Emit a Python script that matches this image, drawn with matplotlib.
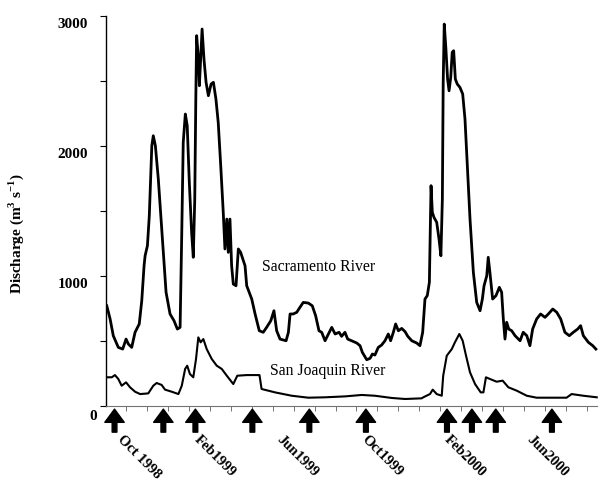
import numpy as np
import matplotlib.pyplot as plt
from matplotlib.transforms import ScaledTranslation

plt.rcParams['font.family'] = ['Liberation Serif', 'DejaVu Serif']
plt.rcParams['mathtext.fontset'] = 'custom'
plt.rcParams['mathtext.rm'] = 'Liberation Serif'
plt.rcParams['mathtext.bf'] = 'Liberation Serif:bold'

# tiempo en meses desde oct 1998, caudal en m3/s
sac_t = [-0.37, -0.21, -0.06, 0.18, 0.39, 0.55, 0.66, 0.82, 0.98, 1.18, 1.30, 1.41,
         1.46, 1.57, 1.66, 1.78, 1.85, 1.95, 2.09, 2.21, 2.33, 2.46, 2.65, 2.84,
         3.00, 3.13, 3.21, 3.28, 3.38, 3.47, 3.57, 3.68, 3.76, 3.83, 3.88, 3.92,
         4.00, 4.05, 4.11, 4.18, 4.27, 4.37, 4.48, 4.61, 4.72, 4.84, 4.95, 5.07,
         5.19, 5.27, 5.36, 5.43, 5.51, 5.59, 5.67, 5.80, 5.91, 6.02, 6.23, 6.31,
         6.55, 6.71, 6.91, 7.10, 7.26, 7.46, 7.61, 7.74, 7.90, 8.19, 8.30, 8.38,
         8.53, 8.70, 8.85, 9.01, 9.25, 9.44, 9.60, 9.76, 9.89, 10.05, 10.21, 10.37,
         10.53, 10.72, 10.84, 11.00, 11.13, 11.32, 11.56, 11.72, 11.83, 12.04, 12.20,
         12.31, 12.43, 12.59, 12.75, 12.91, 13.07, 13.18, 13.31, 13.42, 13.55, 13.71,
         13.87, 14.00, 14.19, 14.42, 14.58, 14.71, 14.82, 14.93, 15.03, 15.11, 15.17,
         15.25, 15.38, 15.49, 15.58, 15.65, 15.69, 15.74, 15.82, 15.90, 15.97, 16.05,
         16.12, 16.19, 16.27, 16.36, 16.49, 16.62, 16.73, 16.84, 16.97, 17.13, 17.29,
         17.45, 17.56, 17.64, 17.77, 17.84, 17.92, 18.05, 18.21, 18.37, 18.48, 18.56,
         18.64, 18.72, 18.82, 18.96, 19.12, 19.36, 19.51, 19.68, 19.83, 19.96, 20.15,
         20.34, 20.55, 20.71, 20.92, 21.11, 21.30, 21.50, 21.71, 21.90, 22.11, 22.25,
         22.38, 22.62, 22.83, 22.98]
sac_q = [771, 669, 541, 451, 438, 515, 477, 451, 567, 631, 810, 1079,
         1156, 1233, 1464, 2002, 2079, 2002, 1746, 1464, 1182, 875, 708, 656,
         592, 605, 1336, 2028, 2246, 2156, 1721, 1336, 1144, 1592, 2362, 2849,
         2682, 2464, 2669, 2900, 2669, 2490, 2387, 2477, 2490, 2362, 2182, 1848,
         1490, 1208, 1438, 1182, 1438, 1079, 938, 925, 1208, 1182, 1079, 925,
         823, 708, 579, 567, 605, 656, 733, 579, 515, 502, 567, 708,
         708, 721, 759, 797, 792, 771, 695, 579, 567, 502, 554, 605,
         554, 567, 536, 567, 515, 502, 485, 464, 413, 356, 367,
         400, 392, 451, 469, 502, 554, 502, 567, 631, 579, 597,
         572, 536, 502, 485, 464, 567, 823, 849, 951, 1695, 1490,
         1451, 1413, 1285, 1156, 1592, 2490, 2938, 2746, 2515, 2425, 2528,
         2721, 2733, 2515, 2477, 2451, 2400, 2208, 1848, 1438, 1028, 797,
         733, 823, 925, 1002, 1144, 1028, 823, 849, 913, 875, 669,
         515, 644, 592, 579, 541, 502, 567, 541, 464, 592, 669,
         708, 682, 708, 746, 721, 669, 567, 541, 567, 592, 618,
         541, 490, 464, 438]

sj_t = [-0.34, -0.13, 0.02, 0.18, 0.34, 0.55, 0.74, 0.98, 1.22, 1.61, 1.85, 2.01,
        2.25, 2.41, 2.73, 3.05, 3.21, 3.37, 3.47, 3.60, 3.76, 3.89, 4.00, 4.11,
        4.24, 4.40, 4.64, 4.88, 5.12, 5.36, 5.67, 5.86, 6.31, 6.86, 6.92, 7.02,
        7.66, 8.46, 9.25, 10.05, 11.00, 11.80, 12.43, 13.23, 13.87, 14.66, 14.74,
        15.06, 15.19, 15.38, 15.62, 15.69, 15.86, 16.10, 16.25, 16.46, 16.62, 16.78,
        16.97, 17.21, 17.48, 17.61, 17.73, 17.92, 18.24, 18.53, 18.80, 19.20, 19.68,
        20.15, 20.95, 21.58, 21.82, 22.38, 23.02]
sj_q = [221, 221, 238, 208, 156, 182, 144, 110, 92, 97, 156, 177,
        162, 126, 110, 92, 156, 285, 310, 246, 221, 362, 528, 490,
        515, 438, 362, 310, 285, 233, 169, 233, 238, 238, 238, 131,
        105, 79, 64, 67, 74, 85, 79, 62, 54, 59, 67,
        92, 126, 92, 79, 233, 387, 438, 490, 554, 502, 387,
        259, 169, 105, 105, 221, 208, 187, 195, 144, 118, 79,
        64, 64, 64, 92, 79, 67]

# fechas de muestreo (flechas)
muestreos = [0, 2.33, 3.86, 6.58, 9.3, 12.0, 15.87, 17.06, 18.2, 20.88]
etiquetas = ['Oct 1998', 'Feb1999', 'Jun1999', 'Oct1999', 'Feb2000', 'Jun2000']
pos_etiquetas = [0.45, 4.1, 8.05, 12.1, 16.05, 20.0]

fig = plt.figure(figsize=(5.98, 4.85), dpi=100)
ax = fig.add_axes([0.1773, 0.1608, 0.8227, 0.8041])

ax.plot(sac_t, sac_q, color='black', lw=2.0)
ax.plot(sj_t, sj_q, color='black', lw=1.5)

ax.text(7.04, 1077, 'Sacramento River', fontsize=11.3, va='center')
ax.text(7.42, 277, 'San Joaquin River', fontsize=11.3, va='center')

trans = ax.get_xaxis_transform()
for m in muestreos:
    ax.annotate('', xy=(m, -0.008), xytext=(m, -0.067), xycoords=trans,
                textcoords=trans, annotation_clip=False,
                arrowprops=dict(facecolor='black', edgecolor='black', width=3.4,
                                headwidth=14, headlength=9.5, shrink=0))

ax.set_xlim(-0.406, 23.08)
ax.set_ylim(0, 3000)

ax.spines['top'].set_visible(False)
ax.spines['right'].set_visible(False)
ax.spines['bottom'].set_color('0.45')
ax.spines['left'].set_linewidth(1.0)

ax.set_yticks([0, 1000, 2000, 3000])
ax.set_yticks([500, 1500, 2500], minor=True)
ax.tick_params(axis='y', which='both', length=4.3, width=0.8, pad=8.5)
ax.set_yticklabels(['0', '1000', '2000', '3000'], fontsize=11, fontweight='bold')
labs = ax.get_yticklabels()
for i, lab in enumerate(labs):
    if i == 0:
        off = ScaledTranslation(0.09, -0.08, fig.dpi_scale_trans)
    else:
        off = ScaledTranslation(0, -0.06, fig.dpi_scale_trans)
    lab.set_transform(lab.get_transform() + off)

ax.set_xticks(pos_etiquetas)
ax.set_xticks(np.arange(0.55, 23, 1.0), minor=True)
ax.tick_params(axis='x', which='major', length=0, pad=19)
ax.tick_params(axis='x', which='minor', length=3.5, width=0.7, color='0.45')
ax.set_xticklabels(etiquetas, fontsize=10.5, fontweight='bold', rotation=-45,
                   ha='left', va='top', rotation_mode='anchor')

ax.set_ylabel(r'Discharge (m$^{\mathbf{3}}$ s$^{\mathbf{-1}}$)', fontsize=11,
              fontweight='bold')
ax.yaxis.set_label_coords(-0.163, 0.446)

plt.savefig('out.png', dpi=100)
